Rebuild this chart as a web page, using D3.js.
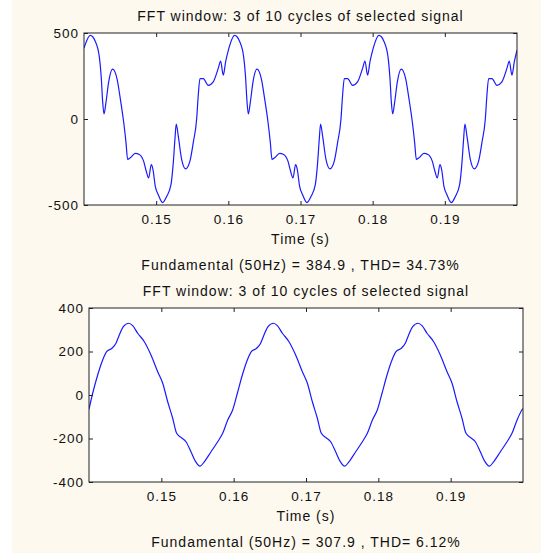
<!DOCTYPE html>
<html>
<head>
<meta charset="utf-8">
<script src="https://cdn.jsdelivr.net/npm/d3@7"></script>
<style>
  body { margin: 0; background: #fff; }
  svg text { font-family: "Liberation Sans", Arial, sans-serif; fill: #111; }
</style>
</head>
<body>
<div id="chart"></div>
<script>
  // distorted signal, 3 cycles
  const topTime = [
    0.14000, 0.14087, 0.14157, 0.14212, 0.14240, 0.14259, 0.14277, 0.14305, 0.14342, 0.14396,
    0.14457, 0.14503, 0.14550, 0.14582, 0.14605, 0.14642, 0.14711, 0.14767, 0.14826, 0.14863,
    0.14896, 0.14932, 0.14956, 0.14988, 0.15029, 0.15090, 0.15145, 0.15205, 0.15237, 0.15260,
    0.15278, 0.15306, 0.15353, 0.15408, 0.15468, 0.15514, 0.15561, 0.15583, 0.15607, 0.15653,
    0.15722, 0.15791, 0.15860, 0.15893, 0.15930, 0.15963,
    0.16008, 0.16087, 0.16157, 0.16212, 0.16240, 0.16259, 0.16277, 0.16305, 0.16342, 0.16396,
    0.16457, 0.16503, 0.16550, 0.16582, 0.16605, 0.16642, 0.16711, 0.16767, 0.16826, 0.16863,
    0.16896, 0.16932, 0.16956, 0.16988, 0.17029, 0.17090, 0.17145, 0.17205, 0.17237, 0.17260,
    0.17278, 0.17306, 0.17353, 0.17408, 0.17468, 0.17514, 0.17561, 0.17583, 0.17607, 0.17653,
    0.17722, 0.17791, 0.17860, 0.17893, 0.17930, 0.17963,
    0.18008, 0.18087, 0.18157, 0.18212, 0.18240, 0.18259, 0.18277, 0.18305, 0.18342, 0.18396,
    0.18457, 0.18503, 0.18550, 0.18582, 0.18605, 0.18642, 0.18711, 0.18767, 0.18826, 0.18863,
    0.18896, 0.18932, 0.18956, 0.18988, 0.19029, 0.19090, 0.19145, 0.19205, 0.19237, 0.19260,
    0.19278, 0.19306, 0.19353, 0.19408, 0.19468, 0.19514, 0.19561, 0.19583, 0.19607, 0.19653,
    0.19722, 0.19791, 0.19860, 0.19893, 0.19930, 0.19963, 0.20000
  ];
  const topValue = [
    412, 486, 451, 363, 235, 98, 29, 98, 216, 290,
    235, 118, -19, -137, -235, -225, -200, -206, -245, -304,
    -343, -265, -294, -392, -440, -486, -451, -382, -255, -118,
    -29, -98, -235, -290, -245, -137, 0, 137, 235, 235,
    196, 216, 294, 337, 255, 333,
    412, 486, 451, 363, 235, 98, 29, 98, 216, 290,
    235, 118, -19, -137, -235, -225, -200, -206, -245, -304,
    -343, -265, -294, -392, -440, -486, -451, -382, -255, -118,
    -29, -98, -235, -290, -245, -137, 0, 137, 235, 235,
    196, 216, 294, 337, 255, 333,
    412, 486, 451, 363, 235, 98, 29, 98, 216, 290,
    235, 118, -19, -137, -235, -225, -200, -206, -245, -304,
    -343, -265, -294, -392, -440, -486, -451, -382, -255, -118,
    -29, -98, -235, -290, -245, -137, 0, 137, 235, 235,
    196, 216, 294, 337, 255, 333, 400
  ];

  // filtered signal, 3 cycles
  const bottomTime = [
    0.14000, 0.14051, 0.14120, 0.14189, 0.14244, 0.14318, 0.14373, 0.14419, 0.14475, 0.14550,
    0.14604, 0.14673, 0.14765, 0.14857, 0.14950, 0.15019, 0.15088, 0.15157, 0.15212, 0.15272,
    0.15341, 0.15410, 0.15470, 0.15535, 0.15594, 0.15687, 0.15779, 0.15848, 0.15918, 0.15987,
    0.16051, 0.16120, 0.16189, 0.16244, 0.16318, 0.16373, 0.16419, 0.16475, 0.16550,
    0.16604, 0.16673, 0.16765, 0.16857, 0.16950, 0.17019, 0.17088, 0.17157, 0.17212, 0.17272,
    0.17341, 0.17410, 0.17470, 0.17535, 0.17594, 0.17687, 0.17779, 0.17848, 0.17918, 0.17987,
    0.18051, 0.18120, 0.18189, 0.18244, 0.18318, 0.18373, 0.18419, 0.18475, 0.18550,
    0.18604, 0.18673, 0.18765, 0.18857, 0.18950, 0.19019, 0.19088, 0.19157, 0.19212, 0.19272,
    0.19341, 0.19410, 0.19470, 0.19535, 0.19594, 0.19687, 0.19779, 0.19848, 0.19918, 0.19987,
    0.20000
  ];
  const bottomValue = [
    -65, 8, 92, 161, 199, 215, 238, 276, 314, 330,
    319, 284, 245, 184, 107, 54, -31, -107, -176, -195,
    -215, -261, -304, -327, -307, -261, -215, -176, -115, -68,
    8, 92, 161, 199, 215, 238, 276, 314, 330,
    319, 284, 245, 184, 107, 54, -31, -107, -176, -195,
    -215, -261, -304, -327, -307, -261, -215, -176, -115, -68,
    8, 92, 161, 199, 215, 238, 276, 314, 330,
    319, 284, 245, 184, 107, 54, -31, -107, -176, -195,
    -215, -261, -304, -327, -307, -261, -215, -176, -115, -68,
    -62
  ];

  const xTicks = [0.15, 0.16, 0.17, 0.18, 0.19];
  const title = "FFT window: 3 of 10 cycles of selected signal";
  const xLabel = "Time (s)";
  const topNote = "Fundamental (50Hz) = 384.9 , THD= 34.73%";
  const bottomNote = "Fundamental (50Hz) = 307.9 , THD= 6.12%";

  const W = 541, H = 553;

  const svg = d3.select("#chart").append("svg")
    .attr("width", W)
    .attr("height", H);

  // figure background (MATLAB-ish cream), white strip on the left
  svg.append("rect").attr("width", W).attr("height", H).attr("fill", "#fdf9ef");
  svg.append("rect").attr("width", 12).attr("height", H).attr("fill", "#ffffff");

  function panel(box, yDomain, yTicks, time, values, note, id) {
    const x = d3.scaleLinear().domain([0.14, 0.2]).range([box.left, box.right]);
    const y = d3.scaleLinear().domain(yDomain).range([box.bottom, box.top]);
    const cx = (box.left + box.right) / 2;

    const g = svg.append("g");

    g.append("rect")
      .attr("x", box.left).attr("y", box.top)
      .attr("width", box.right - box.left).attr("height", box.bottom - box.top)
      .attr("fill", "#fff");

    g.append("clipPath").attr("id", id)
      .append("rect")
      .attr("x", box.left).attr("y", box.top)
      .attr("width", box.right - box.left).attr("height", box.bottom - box.top);

    const pts = time.map((t, i) => [t, values[i]]);
    g.append("path")
      .datum(pts)
      .attr("clip-path", `url(#${id})`)
      .attr("fill", "none")
      .attr("stroke", "#1a1aff")
      .attr("stroke-width", 1.2)
      .attr("d", d3.line().x(d => x(d[0])).y(d => y(d[1])).curve(d3.curveMonotoneX));

    // axes, ticks pointing inward on all four sides
    const tl = 4;
    g.append("g").attr("transform", `translate(0,${box.bottom})`)
      .call(d3.axisBottom(x).tickValues(xTicks).tickSizeInner(-tl).tickSizeOuter(0).tickPadding(9).tickFormat(d3.format(".2f")));
    g.append("g").attr("transform", `translate(0,${box.top})`)
      .call(d3.axisTop(x).tickValues(xTicks).tickSizeInner(-tl).tickSizeOuter(0).tickFormat(""));
    g.append("g").attr("transform", `translate(${box.left},0)`)
      .call(d3.axisLeft(y).tickValues(yTicks).tickSizeInner(-tl).tickSizeOuter(0).tickPadding(5).tickFormat(d => String(d)));
    g.append("g").attr("transform", `translate(${box.right},0)`)
      .call(d3.axisRight(y).tickValues(yTicks).tickSizeInner(-tl).tickSizeOuter(0).tickFormat(""));

    g.selectAll(".tick line").attr("stroke", "#222");
    g.selectAll(".domain").remove();
    g.selectAll(".tick text")
      .attr("font-size", 13.5)
      .attr("font-family", "Liberation Sans, Arial, sans-serif")
      .attr("fill", "#111")
      .attr("letter-spacing", "1px");

    g.append("rect")
      .attr("x", box.left).attr("y", box.top)
      .attr("width", box.right - box.left).attr("height", box.bottom - box.top)
      .attr("fill", "none")
      .attr("stroke", "#222")
      .attr("stroke-width", 1);

    const text = (yy, s) => g.append("text")
      .attr("x", cx).attr("y", yy)
      .attr("text-anchor", "middle")
      .attr("font-size", 14)
      .attr("letter-spacing", "1px")
      .text(s);

    text(box.top - 12, title);
    text(box.bottom + 39, xLabel);
    text(box.bottom + 65, note);
  }

  panel({ left: 84, right: 517, top: 33, bottom: 205 }, [-500, 500], [-500, 0, 500],
        topTime, topValue, topNote, "clipTop");
  panel({ left: 89, right: 523, top: 308, bottom: 482 }, [-400, 400], [-400, -200, 0, 200, 400],
        bottomTime, bottomValue, bottomNote, "clipBottom");
</script>
</body>
</html>
